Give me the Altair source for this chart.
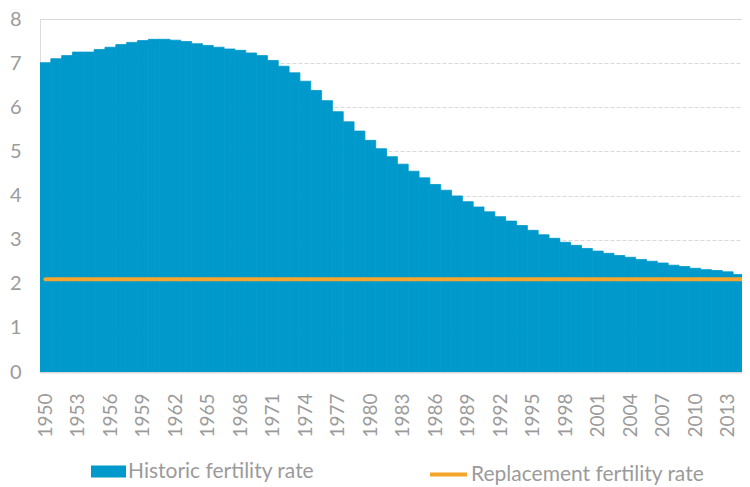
import altair as alt
import pandas as pd

years = list(range(1950, 2016))
historic_rate = [
    7.01, 7.10, 7.17, 7.25, 7.25, 7.31, 7.36, 7.42, 7.47, 7.51,
    7.54, 7.54, 7.52, 7.49, 7.44, 7.40, 7.36, 7.32, 7.29, 7.23,
    7.17, 7.06, 6.93, 6.78, 6.59, 6.38, 6.15, 5.90, 5.67, 5.46,
    5.25, 5.06, 4.88, 4.71, 4.55, 4.40, 4.25, 4.12, 3.99, 3.86,
    3.74, 3.63, 3.52, 3.42, 3.32, 3.21, 3.11, 3.03, 2.94, 2.87,
    2.80, 2.74, 2.69, 2.64, 2.60, 2.55, 2.51, 2.47, 2.42, 2.39,
    2.35, 2.32, 2.30, 2.27, 2.21, 2.20,
]
replacement_rate = [2.1] * len(years)
tick_years = list(range(1950, 2014, 3))
y_ticks = list(range(0, 9))

series_hist = "Historic fertility rate"
series_repl = "Replacement fertility rate"

BLUE = "#0099CC"
ORANGE = "#F5A42C"
GRAY = "#9B9B9B"
FONT = "Lato"

df = pd.DataFrame({
    "year": years,
    "start": [y - 0.5 for y in years],
    "end": [y + 0.5 for y in years],
    "rate": historic_rate,
    "base": [0] * len(years),
    "repl": replacement_rate,
    "s1": series_hist,
    "s2": series_repl,
})

x_scale = alt.Scale(domain=[1949.5, 2014.32], nice=False, zero=False)
y_scale = alt.Scale(domain=[0, 8], nice=False)

x_axis = alt.Axis(
    values=tick_years, format="d", labelAngle=270, ticks=False, tickSize=0,
    grid=False, title=None, labelPadding=21, labelFontSize=19,
    labelColor=GRAY, labelFont=FONT, domainColor="#D9D9D9", domainWidth=2,
    labelOverlap=False, labelFlush=False, labelBound=False,
)
y_axis = alt.Axis(
    values=y_ticks, ticks=False, tickSize=0, domain=False, title=None,
    labelPadding=19, labelFontSize=20, labelColor=GRAY, labelFont=FONT,
    grid=True, gridColor="#D9D9D9", gridDash=[4, 2], gridWidth=1,
    labelOverlap=False,
)

bars = alt.Chart(df).mark_rect(clip=True, stroke=BLUE, strokeWidth=0.8).encode(
    x=alt.X("start:Q", scale=x_scale, axis=x_axis),
    x2="end:Q",
    y=alt.Y("rate:Q", scale=y_scale, axis=y_axis),
    y2="base:Q",
    color=alt.Color(
        "s1:N",
        scale=alt.Scale(domain=[series_hist], range=[BLUE]),
        legend=alt.Legend(
            title=None, orient="none", legendX=51, legendY=435,
            symbolType="M-1,-0.343H1V0.343H-1Z", symbolSize=1225,
            labelFontSize=21, labelFont=FONT, labelColor=GRAY,
            labelOffset=2, symbolOpacity=1, labelLimit=600,
            symbolStrokeWidth=0,
        ),
    ),
)

line = alt.Chart(df).mark_line(clip=True, strokeWidth=4, strokeCap="round").encode(
    x=alt.X("year:Q", scale=x_scale, axis=x_axis),
    y=alt.Y("repl:Q", scale=y_scale, axis=y_axis),
    stroke=alt.Stroke(
        "s2:N",
        scale=alt.Scale(domain=[series_repl], range=[ORANGE]),
        legend=alt.Legend(
            title=None, orient="none", legendX=388, legendY=435,
            symbolType="stroke", symbolSize=1369, symbolStrokeWidth=4,
            labelFontSize=21, labelFont=FONT, labelColor=GRAY,
            labelOffset=2, labelLimit=600,
        ),
    ),
)

chart = alt.layer(bars, line).properties(
    width=702, height=353,
    autosize=alt.AutoSizeParams(type="none"),
    padding={"left": 32, "top": 11, "right": 0, "bottom": 115},
).configure_view(stroke=None).configure(background="white").configure_axisX(
    labelOverlap=False
)

chart.save("out.html", embed_options={"renderer": "svg", "actions": False})
